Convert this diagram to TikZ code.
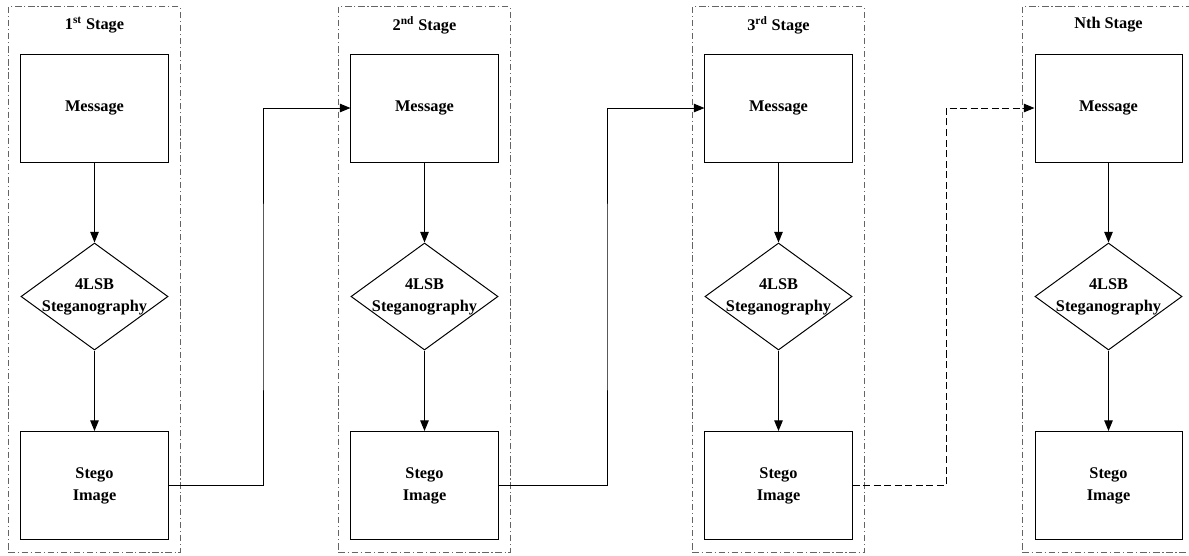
\documentclass[tikz,border=0pt]{standalone}
\usepackage{fontspec}
\setmainfont{Liberation Serif}
\usetikzlibrary{positioning, arrows.meta, shapes.geometric}
\definecolor{framegray}{RGB}{100, 100, 100}

\tikzset{
    stagebox/.style={draw=framegray, line width=0.7pt,
                     dash pattern=on 4.5pt off 2pt on 0.8pt off 2pt,
                     minimum width=4.3cm, minimum height=13.625cm, inner sep=0pt},
    blockbox/.style={draw, line width=0.7pt, minimum width=3.675cm, minimum height=2.7cm,
                     align=center, font=\bfseries\fontsize{11.6}{15.5}\selectfont},
    decision/.style={draw, diamond, line width=0.7pt, inner sep=-3pt, aspect=1.37,
                     minimum width=3.675cm, minimum height=2.675cm,
                     align=center, font=\bfseries\fontsize{11.6}{15.5}\selectfont},
    stagetitle/.style={font=\bfseries\fontsize{11.6}{13}\selectfont},
    flow/.style={-{Triangle[length=7.5pt, width=6pt]}, line width=0.7pt},
}

\begin{document}
\begin{tikzpicture}[x=0.025cm, y=-0.025cm]
    \useasboundingbox (0,0) rectangle (1189,555);

    % one column per stage
    \foreach \i/\cx/\stagename in {1/94.5/{1\textsuperscript{st}}, 2/424.5/{2\textsuperscript{nd}},
                                   3/778.5/{3\textsuperscript{rd}}, 4/1108.5/{Nth}} {
        \node[stagebox] (frame\i) at (\cx, 279.5) {};
        \node[stagetitle] (title\i) at (\cx, 25) {\stagename{} Stage};
        \node[blockbox] (msg\i) at (\cx, 108) {Message};
        \node[decision] (lsb\i) at (\cx, 296.5) {4LSB\\Steganography};
        \node[blockbox] (stego\i) at (\cx, 485.5) {Stego\\Image};
        \draw[flow] (msg\i) -- (lsb\i);
        \draw[flow] (lsb\i) -- (stego\i);
    }

    % hand-over between stages
    \coordinate (turn1) at (263, 297);
    \coordinate (turn2) at (607, 297);
    \coordinate (turn3) at (946, 297);
    \draw[flow] (stego1.east) -| (turn1) |- (msg2.west);
    \draw[flow] (stego2.east) -| (turn2) |- (msg3.west);
    \draw[flow, dash pattern=on 5pt off 2.5pt] (stego3.east) -| (turn3) |- (msg4.west);
\end{tikzpicture}
\end{document}
